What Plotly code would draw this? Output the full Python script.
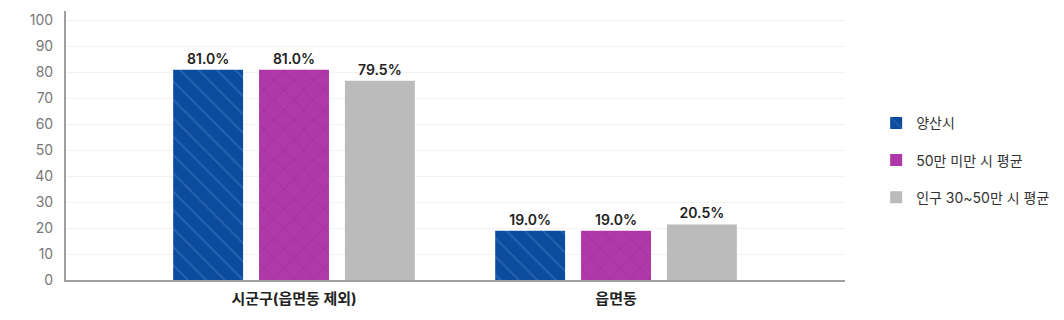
import plotly.graph_objects as go

categories = ["시군구(읍면동 제외)", "읍면동"]
series_names = ["양산시", "50만 미만 시 평균", "인구 30~50만 시 평균"]
yangsan_values = [81.0, 19.0]
under50_values = [81.0, 19.0]
pop30_50_values = [76.7, 21.4]
yangsan_labels = ["81.0%", "19.0%"]
under50_labels = ["81.0%", "19.0%"]
pop30_50_labels = ["79.5%", "20.5%"]
y_ticks = [0, 10, 20, 30, 40, 50, 60, 70, 80, 90, 100]

FONT = "Inter, 'Noto Sans CJK KR', sans-serif"

fig = go.Figure()
fig.add_trace(go.Bar(
    name=series_names[0], x=categories, y=yangsan_values, text=yangsan_labels,
    legendgroup="g1",
    marker=dict(color="#0B4C9E", line=dict(width=0),
                pattern=dict(shape="\\", fgcolor="#4A7FC6", size=13, solidity=0.12)),
))
fig.add_trace(go.Bar(
    name=series_names[1], x=categories, y=under50_values, text=under50_labels,
    legendgroup="g2",
    marker=dict(color="#B038A8", line=dict(width=0),
                pattern=dict(shape="x", fgcolor="#8A2882", size=14, solidity=0.1)),
))
fig.add_trace(go.Bar(
    name=series_names[2], x=categories, y=pop30_50_values, text=pop30_50_labels,
    legendgroup="g3",
    marker=dict(color="#BBBBBB", line=dict(width=0)),
))
fig.update_traces(textposition="outside", cliponaxis=False,
                  textfont=dict(family=FONT, size=14, color="#222222", weight=600))

fig.update_layout(
    width=1064, height=320,
    margin=dict(l=66, r=219, t=11, b=40, autoexpand=False),
    paper_bgcolor="white", plot_bgcolor="white",
    barmode="group", bargap=0.2, bargroupgap=0.186,
    font=dict(family=FONT, size=14, color="#222222"),
    showlegend=True,
    legend=dict(x=1.04, xanchor="left", y=0.445, yanchor="middle",
                font=dict(family=FONT, size=14, color="#333333"),
                tracegroupgap=16, traceorder="grouped"),
    xaxis=dict(range=[-0.708, 1.711], showgrid=False, showline=True,
               linecolor="#A0A0A0", linewidth=2, ticks="", ticklabelstandoff=4,
               tickfont=dict(family=FONT, size=15, color="#222222", weight="bold")),
    yaxis=dict(range=[0, 103.6], tickvals=y_ticks, showgrid=True, gridcolor="#F2F2F2",
               gridwidth=1, showline=True, linecolor="#A0A0A0", linewidth=2,
               zeroline=False, ticks="", ticklabelstandoff=8,
               tickfont=dict(family=FONT, size=14, color="#777777")),
)

fig.write_html("out.html")
